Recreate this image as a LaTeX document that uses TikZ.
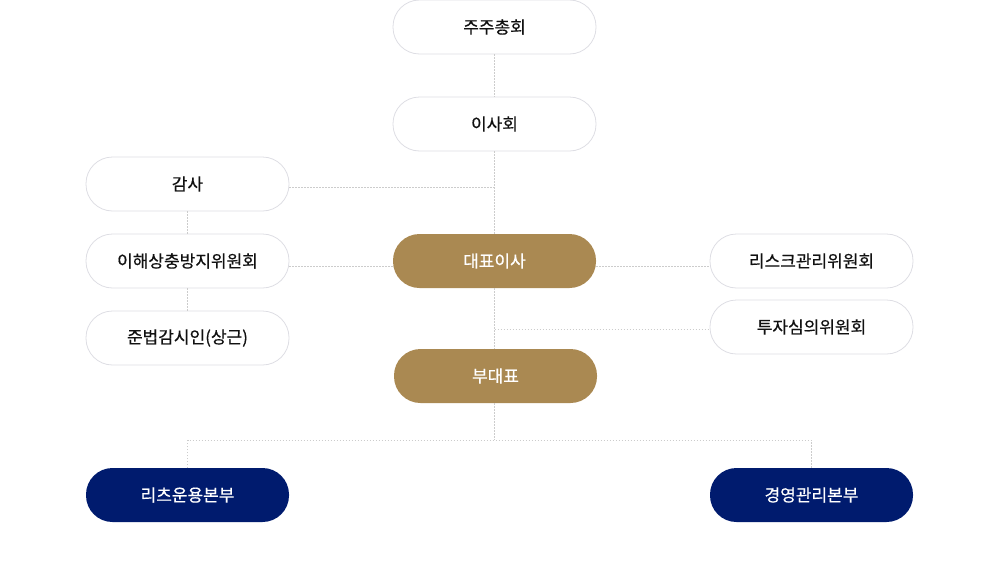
\documentclass[tikz,border=0pt]{standalone}
\usepackage{fontspec}
\setmainfont[FakeBold=0.5]{Noto Sans CJK KR}
\definecolor{gold}{HTML}{AA8952}
\definecolor{navy}{HTML}{001B6E}
\definecolor{edge}{HTML}{DEDEE4}
\definecolor{dotc}{HTML}{CCCCCC}
\definecolor{txt}{HTML}{111111}
\begin{document}
\begin{tikzpicture}[x=1pt,y=-1pt,
  box/.style={rounded corners=26.5pt,minimum width=203pt,minimum height=54pt,inner sep=0pt,outer sep=0pt,font=\fontsize{17}{20}\selectfont,anchor=center},
  wbox/.style={box,draw=edge,line width=0.8pt,fill=white,text=txt},
  gbox/.style={box,fill=gold,text=white},
  nbox/.style={box,fill=navy,text=white},
  link/.style={draw=dotc,line width=1pt,dash pattern=on 1.5pt off 1.5pt}]
\useasboundingbox (0,0) rectangle (982,573);
\node[wbox] (gm) at (494.5,27) {주주총회};
\node[wbox] (bd) at (494.5,124) {이사회};
\node[wbox] (au) at (187.5,184) {감사};
\node[wbox] (ci) at (187.5,261) {이해상충방지위원회};
\node[wbox] (co) at (187.5,338) {준법감시인(상근)};
\node[gbox] (ceo) at (494.5,261) {대표이사};
\node[wbox] (rk) at (811.5,261) {리스크관리위원회};
\node[wbox] (iv) at (811.5,327) {투자심의위원회};
\node[gbox] (vp) at (495.5,376) {부대표};
\node[nbox] (re) at (187.5,495) {리츠운용본부};
\node[nbox] (mg) at (811.5,495) {경영관리본부};
\coordinate (j1) at (494.5,187);
\coordinate (j2) at (494.5,329);
\coordinate (j3) at (494.5,440);
\path[link] (gm.south) -- (bd.north);
\path[link] (bd.south) -- (ceo.north);
\path[link] ([yshift=-3pt]au.east) -- (j1);
\path[link] (au.south) -- (ci.north);
\path[link] (ci.south) -- (co.north);
\path[link] ([yshift=-5pt]ci.east) -- ([yshift=-5pt]ceo.west);
\path[link] ([yshift=-5pt]ceo.east) -- ([yshift=-5pt]rk.west);
\path[link] (ceo.south) -- (vp.north -| ceo.south);
\path[link] (j2) -- (j2 -| iv.west);
\path[link] (vp.south -| j3) -- (j3);
\path[link] (re.north) |- (j3) -| (mg.north);
\end{tikzpicture}
\end{document}
